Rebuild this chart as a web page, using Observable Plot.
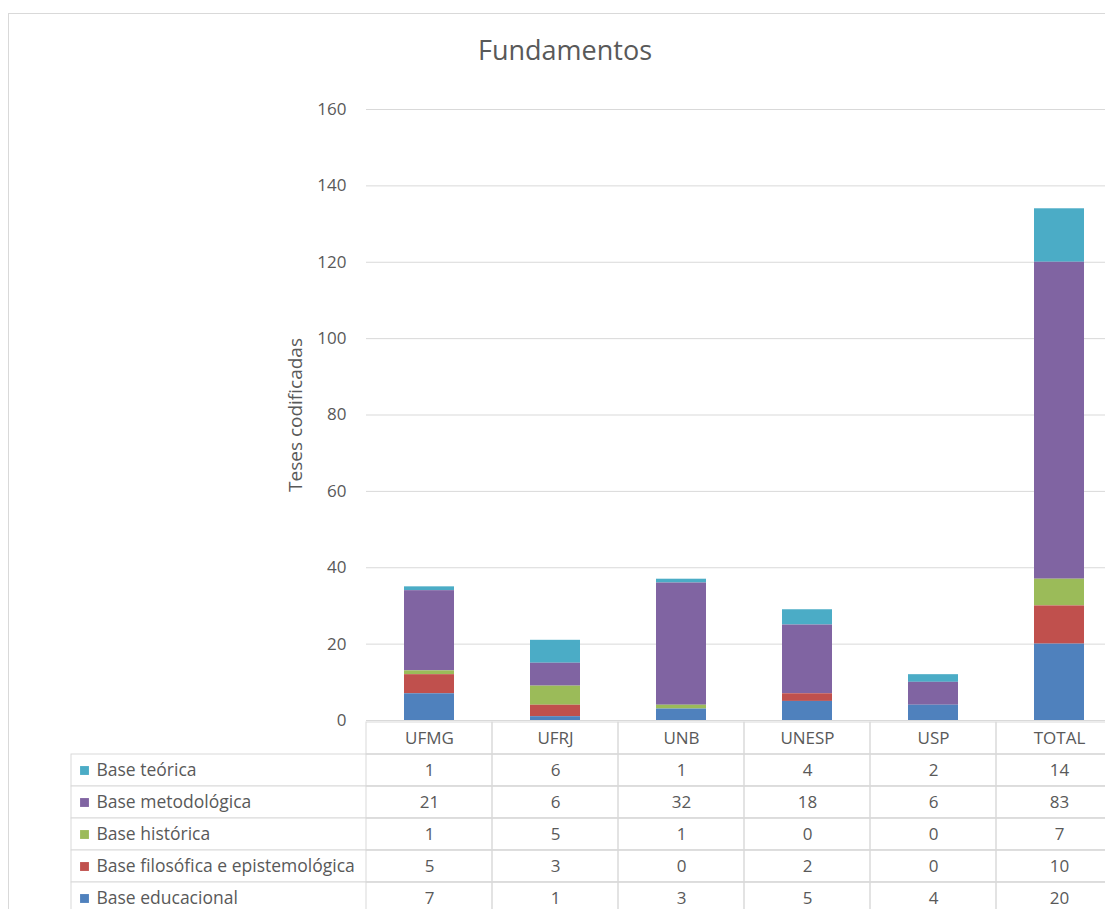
<!DOCTYPE html>
<html>
<head>
<meta charset="utf-8">
<script src="https://cdn.jsdelivr.net/npm/d3@7"></script>
<script src="https://cdn.jsdelivr.net/npm/@observablehq/plot@0.6"></script>
<style>
  body { margin: 0; background: #fff; }
  #root { position: relative; width: 1105px; height: 909px; overflow: hidden; font-family: "Open Sans", sans-serif; color: #595959; }
  #frame { position: absolute; left: 8px; top: 13px; width: 1200px; height: 1000px; border: 1px solid #d9d9d9; box-sizing: border-box; }
  #title { position: absolute; left: 0; width: 1130px; top: 37px; text-align: center; font-size: 27px; line-height: 26px; color: #595959; }
  #chart { position: absolute; left: 0; top: 0; }
  #table { position: absolute; left: 0; top: 720px; width: 1130px; }
  svg { max-width: none !important; }
</style>
</head>
<body>
<div id="root">
  <div id="frame"></div>
  <div id="title">Fundamentos</div>
  <div id="chart"></div>
  <div id="table"></div>
</div>
<script>
// ---- data ----
const universidades = ["UFMG", "UFRJ", "UNB", "UNESP", "USP", "TOTAL"];
const series = ["Base teórica", "Base metodológica", "Base histórica", "Base filosófica e epistemológica", "Base educacional"];
const cores = ["#4BACC6", "#8064A2", "#9BBB59", "#C0504D", "#4F81BD"];
const baseTeorica = [1, 6, 1, 4, 2, 14];
const baseMetodologica = [21, 6, 32, 18, 6, 83];
const baseHistorica = [1, 5, 1, 0, 0, 7];
const baseFilosofica = [5, 3, 0, 2, 0, 10];
const baseEducacional = [7, 1, 3, 5, 4, 20];
const yTicks = [0, 20, 40, 60, 80, 100, 120, 140, 160];
const titulo = "Fundamentos";
const yTitulo = "Teses codificadas";

// ---- tidy table ----
const valoresPorSerie = [baseTeorica, baseMetodologica, baseHistorica, baseFilosofica, baseEducacional];
const dados = series.flatMap((s, i) => universidades.map((u, j) => ({serie: s, uni: u, valor: valoresPorSerie[i][j]})));
const ordemPilha = series.slice().reverse(); // bottom to top

const font = "'Open Sans', sans-serif";

const chart = Plot.plot({
  width: 1105,
  height: 740,
  marginLeft: 366,
  marginRight: 0,
  marginTop: 109,
  marginBottom: 20,
  style: {fontFamily: font, fontSize: "17px", color: "#595959", background: "transparent", overflow: "visible", maxWidth: "none"},
  x: {domain: universidades, range: [366, 1122], paddingInner: 0.6, paddingOuter: 0.3, axis: null},
  y: {domain: [0, 160]},
  color: {domain: series, range: cores},
  marks: [
    Plot.ruleY(yTicks, {stroke: "#d9d9d9", strokeWidth: 1}),
    Plot.barY(dados, {x: "uni", y: "valor", fill: "serie", order: ordemPilha}),
    Plot.axisY(yTicks, {tickSize: 0, tickPadding: 20, fontSize: 17, label: null}),
    Plot.axisY({ticks: [], tickSize: 0, fontSize: 19, label: yTitulo, labelAnchor: "center", labelOffset: 78, labelArrow: "none"})
  ]
});
document.getElementById("chart").appendChild(chart);
document.getElementById("title").textContent = titulo;

const cabecalho = "__cabecalho__";
const linhas = [cabecalho, ...series];
const celulas = linhas.flatMap(l => universidades.map(u => ({linha: l, uni: u})));

const table = Plot.plot({
  width: 1130,
  height: 189,
  marginLeft: 71,
  marginRight: 0,
  marginTop: 0,
  marginBottom: 0,
  style: {fontFamily: font, fontSize: "17px", color: "#595959", background: "transparent", maxWidth: "none"},
  x: {domain: universidades, range: [366, 1122], padding: 0, axis: null},
  y: {domain: linhas, range: [0, 196], padding: 0, axis: null},
  color: {domain: series, range: cores},
  marks: [
    Plot.cell(series, {y: d => d, stroke: "#d9d9d9", fill: "white"}),
    Plot.cell(celulas, {x: "uni", y: "linha", stroke: "#d9d9d9", fill: "none"}),
    Plot.dot(series, {y: d => d, fill: d => d, symbol: "square", r: 5, frameAnchor: "left", dx: 13}),
    Plot.text(series, {y: d => d, text: d => d, frameAnchor: "left", dx: 25, textAnchor: "start", fontSize: 17.5}),
    Plot.text(universidades, {x: d => d, y: () => cabecalho, text: d => d}),
    Plot.text(dados, {x: "uni", y: "serie", text: d => String(d.valor)})
  ]
});
document.getElementById("table").appendChild(table);
</script>
</body>
</html>
